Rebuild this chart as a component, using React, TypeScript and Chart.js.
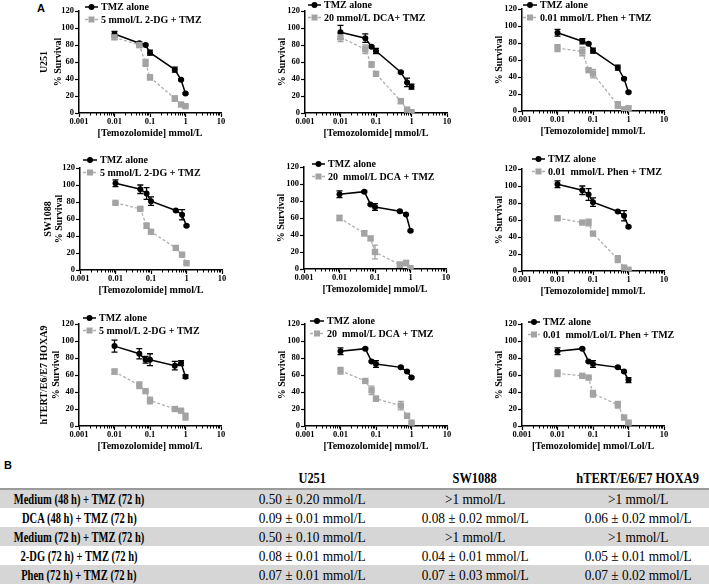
import React, { useEffect, useRef } from 'react';
import { Chart, registerables } from 'chart.js';

Chart.register(...registerables);

// ---------- data ----------
const concentrations = [0.01, 0.05, 0.075, 0.1, 0.5, 0.75, 1];
const xTickValues = [0.001, 0.01, 0.1, 1, 10];
const xTickLabels = ['0.001', '0.01', '0.1', '1', '10'];
const yTickValues = [0, 20, 40, 60, 80, 100, 120];

// U251
const tmzU251_2DG = [93, 82, 80, 71, 51, 39, 23];
const tmzU251_2DGErr = [3, 2, 1, 3, 3, 1, 1];
const dgU251 = [89, 80, 59, 42, 17, 10, 8];
const dgU251Err = [2, 3, 4, 3, 3, 1, 1];
const tmzU251_DCA = [95, 88, 78, 73, 48, 36, 31];
const tmzU251_DCAErr = [8, 5, 1, 3, 1, 5, 3];
const dcaU251 = [89, 75, 57, 46, 14, 4, 1];
const dcaU251Err = [5, 5, 3, 1, 3, 1, 1];
const tmzU251_Phen = [92, 82, 79, 71, 51, 38, 22];
const tmzU251_PhenErr = [4, 3, 1, 3, 3, 1, 1];
const phenU251 = [74, 70, 48, 44, 7, 2, 3];
const phenU251Err = [4, 5, 1, 5, 4, 1, 3];

// SW1088
const tmzSW_2DG = [102, 95, 90, 81, 70, 65, 52];
const tmzSW_2DGErr = [4, 5, 7, 5, 1, 6, 1];
const dgSW = [79, 72, 52, 45, 26, 18, 8];
const dgSWErr = [1, 1, 3, 1, 2, 1, 1];
const tmzSW_DCA = [88, 91, 76, 73, 68, 64, 45];
const tmzSW_DCAErr = [4, 1, 1, 4, 1, 1, 1];
const dcaSW = [60, 42, 36, 20, 5, 7, 1];
const dcaSWErr = [3, 3, 2, 8, 3, 3, 1];
const tmzSW_Phen = [102, 95, 90, 81, 70, 65, 52];
const tmzSW_PhenErr = [4, 5, 7, 5, 1, 6, 1];
const phenSW = [62, 57, 57, 44, 14, 4, 1.5];
const phenSWErr = [1, 1, 4, 1, 4, 2, 1];

// hTERT/E6/E7 HOXA9
const tmzH_2DG = [94, 85, 78, 78, 71, 74, 58];
const tmzH_2DGErr = [7, 6, 4, 7, 5, 3, 2];
const dgH = [64, 48, 41, 30, 20, 18, 11];
const dgHErr = [3, 4, 1, 4, 1, 1, 4];
const tmzH_DCA = [88, 91, 76, 73, 69, 64, 57];
const tmzH_DCAErr = [4, 1, 1, 4, 1, 1, 1];
const dcaH = [65, 53, 42, 32, 24, 12, 4];
const dcaHErr = [4, 1, 5, 3, 5, 1, 1];
const tmzH_Phen = [88, 91, 76, 73, 69, 64, 54];
const tmzH_PhenErr = [4, 1, 1, 4, 1, 1, 3];
const phenH = [62, 59, 57, 38, 25, 10, 4];
const phenHErr = [4, 1, 1, 4, 4, 1, 1];

// table
const tableColumns = ['U251', 'SW1088', 'hTERT/E6/E7 HOXA9'];
const tableRowLabels = [
  'Medium (48 h) + TMZ (72 h)',
  'DCA (48 h) + TMZ (72 h)',
  'Medium (72 h) + TMZ (72 h)',
  '2-DG (72 h) + TMZ (72 h)',
  'Phen (72 h) + TMZ (72 h)',
];
const ic50U251 = ['0.50 ± 0.20 mmol/L', '0.09 ± 0.01 mmol/L', '0.50 ± 0.10 mmol/L', '0.08 ± 0.01 mmol/L', '0.07 ± 0.01 mmol/L'];
const ic50SW1088 = ['>1 mmol/L', '0.08 ± 0.02 mmol/L', '>1 mmol/L', '0.04 ± 0.01 mmol/L', '0.07 ± 0.03 mmol/L'];
const ic50HOXA9 = ['>1 mmol/L', '0.06 ± 0.02 mmol/L', '>1 mmol/L', '0.05 ± 0.01 mmol/L', '0.07 ± 0.02 mmol/L'];

// ---------- layout / styles ----------
const FONT = '"Liberation Serif", "Times New Roman", serif';
const GRAY = '#a3a3a3';
const GRAY_LINE = '#b0b0b0';
const AXIS_W = 50;
const PAD_T = 16;
const PAD_R = 16;
const AXIS_H = 30;
const PLOT_W = 142;
const PLOT_H = 102;

type Panel = {
  tmz: number[]; tmzErr: number[]; treat: number[]; treatErr: number[];
  treatLabel: string; xTitle: string; yTitle: string[]; yTitleOffsets: number[];
  left: number; top: number; legend: { dx: number; tx: number; dy: number };
};

const panels: Panel[] = [
  { tmz: tmzU251_2DG, tmzErr: tmzU251_2DGErr, treat: dgU251, treatErr: dgU251Err, treatLabel: '5 mmol/L 2-DG + TMZ', xTitle: '[Temozolomide] mmol/L', yTitle: ['U251', '% Survival'], yTitleOffsets: [-35, -21], left: 79, top: 11, legend: { dx: 6, tx: 22, dy: -4 } },
  { tmz: tmzU251_DCA, tmzErr: tmzU251_DCAErr, treat: dcaU251, treatErr: dcaU251Err, treatLabel: '20 mmol/L DCA+ TMZ', xTitle: '[Temozolomide] mmol/L', yTitle: ['% Survival'], yTitleOffsets: [-23], left: 305, top: 11, legend: { dx: 3, tx: 19, dy: -6 } },
  { tmz: tmzU251_Phen, tmzErr: tmzU251_PhenErr, treat: phenU251, treatErr: phenU251Err, treatLabel: '0.01 mmol/L Phen + TMZ', xTitle: '[Temozolomide] mmol/L', yTitle: ['% Survival'], yTitleOffsets: [-23], left: 522, top: 9, legend: { dx: 1, tx: 18, dy: -4 } },
  { tmz: tmzSW_2DG, tmzErr: tmzSW_2DGErr, treat: dgSW, treatErr: dgSWErr, treatLabel: '5 mmol/L 2-DG + TMZ', xTitle: '[Temozolomide] mmol/L', yTitle: ['SW1088', '% Survival'], yTitleOffsets: [-32, -21], left: 80, top: 168, legend: { dx: 3, tx: 20, dy: -8 } },
  { tmz: tmzSW_DCA, tmzErr: tmzSW_DCAErr, treat: dcaSW, treatErr: dcaSWErr, treatLabel: '20  mmol/L DCA + TMZ', xTitle: '[Temozolomide] mmol/L', yTitle: ['% Survival'], yTitleOffsets: [-23], left: 304, top: 167, legend: { dx: 8, tx: 24, dy: -3 } },
  { tmz: tmzSW_Phen, tmzErr: tmzSW_PhenErr, treat: phenSW, treatErr: phenSWErr, treatLabel: '0.01  mmol/L Phen + TMZ', xTitle: '[Temozolomide] mmol/L', yTitle: ['% Survival'], yTitleOffsets: [-23], left: 522, top: 169, legend: { dx: 10, tx: 26, dy: -10 } },
  { tmz: tmzH_2DG, tmzErr: tmzH_2DGErr, treat: dgH, treatErr: dgHErr, treatLabel: '5 mmol/L 2-DG + TMZ', xTitle: '[Temozolomide] mmol/L', yTitle: ['hTERT/E6/E7 HOXA9', '% Survival'], yTitleOffsets: [-35, -23], left: 79, top: 324, legend: { dx: 4, tx: 20, dy: -6 } },
  { tmz: tmzH_DCA, tmzErr: tmzH_DCAErr, treat: dcaH, treatErr: dcaHErr, treatLabel: '20  mmol/L DCA + TMZ', xTitle: '[Temozolomide] mmol/L', yTitle: ['% Survival'], yTitleOffsets: [-23], left: 305, top: 324, legend: { dx: 5, tx: 22, dy: -3 } },
  { tmz: tmzH_Phen, tmzErr: tmzH_PhenErr, treat: phenH, treatErr: phenHErr, treatLabel: '0.01  mmol/Lol/L Phen + TMZ', xTitle: '[Temozolomide] mmol/Lol/L', yTitle: ['% Survival'], yTitleOffsets: [-23], left: 522, top: 324, legend: { dx: 6, tx: 21, dy: -2 } },
];

// ---------- plugins ----------
const errorBarPlugin = {
  id: 'errorBars',
  beforeDatasetsDraw(chart: any) {
    const ctx = chart.ctx;
    const y = chart.scales.y;
    chart.data.datasets.forEach((ds: any, i: number) => {
      const meta = chart.getDatasetMeta(i);
      ctx.save();
      ctx.strokeStyle = ds.errColor;
      ctx.lineWidth = 1.3;
      meta.data.forEach((el: any, j: number) => {
        const v = ds.data[j].y;
        const e = ds.errors[j];
        const yt = y.getPixelForValue(v + e);
        const yb = y.getPixelForValue(Math.max(v - e, 0));
        ctx.beginPath();
        ctx.moveTo(el.x, yt); ctx.lineTo(el.x, yb);
        ctx.moveTo(el.x - 3, yt); ctx.lineTo(el.x + 3, yt);
        ctx.moveTo(el.x - 3, yb); ctx.lineTo(el.x + 3, yb);
        ctx.stroke();
      });
      ctx.restore();
    });
  },
};

const minorTickPlugin = {
  id: 'minorTicks',
  afterDraw(chart: any) {
    const ctx = chart.ctx;
    const xs = chart.scales.x;
    const base = chart.chartArea.bottom;
    ctx.save();
    ctx.strokeStyle = '#000';
    ctx.lineWidth = 1;
    ctx.beginPath();
    for (let d = 0; d < xTickValues.length - 1; d++) {
      for (let k = 2; k < 10; k++) {
        const px = Math.round(xs.getPixelForValue(xTickValues[d] * k)) + 0.5;
        ctx.moveTo(px, base);
        ctx.lineTo(px, base + 2.5);
      }
    }
    ctx.stroke();
    ctx.restore();
  },
};

const yTitlePlugin = {
  id: 'yTitles',
  afterDraw(chart: any, _args: any, opts: any) {
    const ctx = chart.ctx;
    const { left, top, bottom } = chart.chartArea;
    const cy = (top + bottom) / 2;
    ctx.save();
    ctx.font = `bold 10px ${FONT}`;
    ctx.fillStyle = '#000';
    ctx.textAlign = 'center';
    ctx.textBaseline = 'middle';
    opts.lines.forEach((t: string, i: number) => {
      ctx.save();
      ctx.translate(left + opts.offsets[i], cy);
      ctx.rotate(-Math.PI / 2);
      ctx.fillText(t, 0, 0);
      ctx.restore();
    });
    ctx.restore();
  },
};

const panelLegendPlugin = {
  id: 'panelLegend',
  afterDraw(chart: any, _args: any, opts: any) {
    const ctx = chart.ctx;
    const { left, top } = chart.chartArea;
    ctx.save();
    chart.data.datasets.forEach((ds: any, i: number) => {
      const y = top + opts.dy + i * 12.5;
      const x0 = left + opts.dx;
      const x1 = left + opts.tx - 3;
      ctx.strokeStyle = ds.borderColor;
      ctx.lineWidth = ds.borderWidth;
      ctx.setLineDash(ds.borderDash || []);
      ctx.beginPath();
      ctx.moveTo(x0, y); ctx.lineTo(x1, y);
      ctx.stroke();
      ctx.setLineDash([]);
      const cx = (x0 + x1) / 2;
      ctx.fillStyle = ds.pointBackgroundColor;
      ctx.beginPath();
      if (ds.pointStyle === 'rect') ctx.rect(cx - 3, y - 3, 6, 6);
      else ctx.arc(cx, y, 3, 0, Math.PI * 2);
      ctx.fill();
      ctx.fillStyle = '#000';
      ctx.font = `bold 10px ${FONT}`;
      ctx.textBaseline = 'middle';
      ctx.textAlign = 'left';
      ctx.fillText(ds.label, left + opts.tx, y + 0.5);
    });
    ctx.restore();
  },
};

function SurvivalChart({ p }: { p: Panel }) {
  const ref = useRef<HTMLCanvasElement>(null);
  const cw = AXIS_W + PLOT_W + PAD_R;
  const ch = PAD_T + PLOT_H + AXIS_H;
  useEffect(() => {
    const tickFont = { family: FONT, size: 8.5, weight: 'bold' as const };
    const titleFont = { family: FONT, size: 10, weight: 'bold' as const, lineHeight: 1.25 };
    const chart = new Chart(ref.current as HTMLCanvasElement, {
      type: 'line',
      data: {
        datasets: [
          {
            label: 'TMZ alone',
            data: concentrations.map((x, i) => ({ x, y: p.tmz[i] })),
            errors: p.tmzErr,
            errColor: '#000',
            borderColor: '#000',
            backgroundColor: '#000',
            pointBackgroundColor: '#000',
            pointBorderColor: '#000',
            borderWidth: 1.5,
            pointStyle: 'circle',
            pointRadius: 3,
            pointBorderWidth: 0,
            order: 1,
          } as any,
          {
            label: p.treatLabel,
            data: concentrations.map((x, i) => ({ x, y: p.treat[i] })),
            errors: p.treatErr,
            errColor: GRAY,
            borderColor: GRAY_LINE,
            backgroundColor: GRAY,
            pointBackgroundColor: GRAY,
            pointBorderColor: GRAY,
            borderWidth: 1.3,
            borderDash: [3, 2],
            pointStyle: 'rect',
            pointRadius: 4.5,
            pointBorderWidth: 0,
            order: 0,
          } as any,
        ],
      },
      options: {
        responsive: false,
        animation: false,
        events: [],
        layout: { padding: { top: PAD_T, right: PAD_R, left: 0, bottom: 0 } },
        plugins: {
          legend: { display: false },
          tooltip: { enabled: false },
          panelLegend: p.legend,
          yTitles: { lines: p.yTitle, offsets: p.yTitleOffsets },
        } as any,
        scales: {
          x: {
            type: 'logarithmic',
            min: 0.001,
            max: 10,
            afterBuildTicks: (s: any) => { s.ticks = xTickValues.map((v) => ({ value: v })); },
            afterFit: (s: any) => { s.height = AXIS_H; },
            ticks: {
              autoSkip: false, maxRotation: 0, minRotation: 0, padding: 0, color: '#000', font: tickFont,
              callback: (v: any) => { const k = xTickValues.indexOf(Number(v)); return k >= 0 ? xTickLabels[k] : ''; },
            },
            grid: { drawOnChartArea: false, tickLength: 4, tickColor: '#000', tickWidth: 1.2 },
            border: { color: '#000', width: 1.5 },
            title: { display: true, text: p.xTitle, color: '#000', font: titleFont, padding: { top: 0, bottom: 3 } },
          } as any,
          y: {
            type: 'linear',
            min: 0,
            max: 120,
            afterBuildTicks: (s: any) => { s.ticks = yTickValues.map((v) => ({ value: v })); },
            afterFit: (s: any) => { s.width = AXIS_W; },
            ticks: { padding: 1, color: '#000', font: tickFont },
            grid: { drawOnChartArea: false, tickLength: 4, tickColor: '#000', tickWidth: 1.2 },
            border: { color: '#000', width: 1.5 },
            title: { display: false },
          } as any,
        },
      },
      plugins: [errorBarPlugin, minorTickPlugin, yTitlePlugin, panelLegendPlugin],
    });
    return () => chart.destroy();
  }, []);
  return (
    <canvas
      ref={ref}
      width={cw}
      height={ch}
      style={{ position: 'absolute', left: p.left - AXIS_W, top: p.top - PAD_T, width: cw, height: ch }}
    />
  );
}

function Cell({ cx, cy, text, bold, sx, size }: { cx: number; cy: number; text: string; bold?: boolean; sx: number; size: number }) {
  return (
    <div style={{ position: 'absolute', left: cx - 150, width: 300, top: cy - 10, height: 20, lineHeight: '20px', textAlign: 'center', whiteSpace: 'pre', fontFamily: FONT, fontSize: size, fontWeight: bold ? 'bold' : 'normal', color: '#000' }}>
      <span style={{ display: 'inline-block', transform: `scaleX(${sx})` }}>{text}</span>
    </div>
  );
}

const TABLE_HEADER_Y = 482;
const TABLE_TOP = 489;
const ROW_H = 19;
const LABEL_CX = 79;
const COL_CX = [312, 475, 638];
const TEXT_SIZE = 15.5;

export default function App() {
  const cols = [ic50U251, ic50SW1088, ic50HOXA9];
  return (
    <div style={{ position: 'absolute', left: 0, top: 0, width: 709, height: 587, background: '#fff', overflow: 'hidden' }}>
      <div style={{ position: 'absolute', left: 37, top: 2, fontFamily: '"Liberation Sans", Arial, sans-serif', fontWeight: 'bold', fontSize: 11 }}>A</div>
      {panels.map((p, i) => <SurvivalChart key={i} p={p} />)}
      <div style={{ position: 'absolute', left: 4, top: 459, fontFamily: '"Liberation Sans", Arial, sans-serif', fontWeight: 'bold', fontSize: 11 }}>B</div>
      {tableRowLabels.map((_, r) => (
        <div key={'band' + r} style={{ position: 'absolute', left: 0, width: 709, top: TABLE_TOP + r * ROW_H, height: ROW_H, background: r % 2 === 0 ? '#d6d6d6' : '#fff' }} />
      ))}
      <div style={{ position: 'absolute', left: 0, width: 709, top: TABLE_TOP - 1, height: 2, background: '#9a9a9a' }} />
      {tableColumns.map((c, k) => (
        <Cell key={'h' + k} cx={COL_CX[k]} cy={TABLE_HEADER_Y - 4} text={c} bold sx={0.8} size={TEXT_SIZE} />
      ))}
      {tableRowLabels.map((lab, r) => (
        <Cell key={'l' + r} cx={LABEL_CX} cy={TABLE_TOP + r * ROW_H + ROW_H / 2} text={lab} bold sx={0.68} size={TEXT_SIZE} />
      ))}
      {cols.map((col, k) => col.map((v, r) => (
        <Cell key={'v' + k + '-' + r} cx={COL_CX[k]} cy={TABLE_TOP + r * ROW_H + ROW_H / 2} text={v} sx={0.86} size={TEXT_SIZE} />
      )))}
    </div>
  );
}
